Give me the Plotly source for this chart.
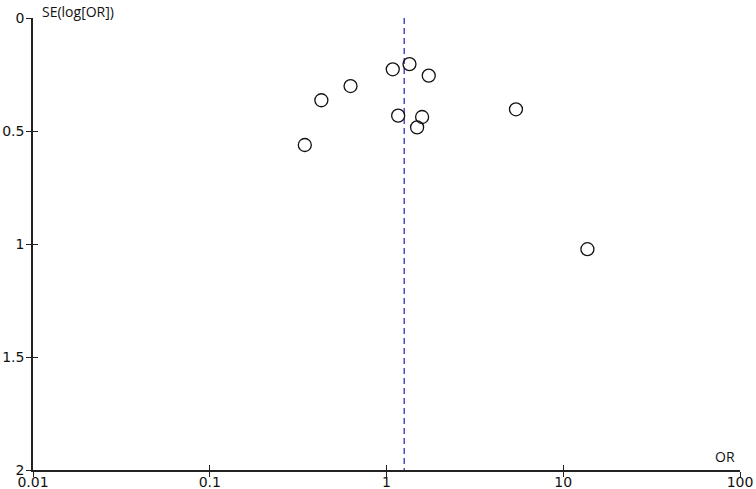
import plotly.graph_objects as go

# Data
odds_ratio = [1.085, 1.349, 1.734, 0.626, 0.428, 1.164, 1.59, 1.49, 0.345, 5.40, 13.7]
se_log_or = [0.227, 0.204, 0.255, 0.301, 0.364, 0.432, 0.438, 0.484, 0.562, 0.404, 1.023]
pooled_or = 1.26
se_span = [0, 2]

x_tickvals = [0.01, 0.1, 1, 10, 100]
x_ticktext = ["0.01", "0.1", "1", "10", "100"]
y_tickvals = [0, 0.5, 1, 1.5, 2]
y_ticktext = ["0", "0.5", "1", "1.5", "2"]

FONT = "DejaVu Sans"
AXC = "#222222"

fig = go.Figure()

fig.add_trace(go.Scatter(
    x=[pooled_or, pooled_or], y=se_span, mode="lines",
    line=dict(color="#4b4bc8", width=1.5, dash="6px,4px"),
    hoverinfo="skip", showlegend=False,
))

fig.add_trace(go.Scatter(
    x=odds_ratio, y=se_log_or, mode="markers",
    marker=dict(symbol="circle-open", size=13, color="#111111", line=dict(width=1.3)),
    showlegend=False,
))

# invisible trace to activate overlay axes (for ticks crossing the axis line)
fig.add_trace(go.Scatter(
    x=odds_ratio, y=se_log_or, mode="markers", xaxis="x2", yaxis="y2",
    marker=dict(opacity=0), hoverinfo="skip", showlegend=False,
))

common_x = dict(type="log", range=[-2, 2], tickvals=x_tickvals, showgrid=False,
                zeroline=False, showline=True, linecolor=AXC, linewidth=1.5,
                tickcolor=AXC, tickwidth=1.3, ticklen=5, automargin=False)
common_y = dict(range=[2, 0], tickvals=y_tickvals, showgrid=False, zeroline=False,
                showline=True, linecolor=AXC, linewidth=1.5,
                tickcolor=AXC, tickwidth=1.3, ticklen=5, automargin=False)

fig.update_layout(
    width=756, height=489,
    margin=dict(l=33, r=16, t=18, b=19),
    paper_bgcolor="white", plot_bgcolor="white",
    font=dict(family=FONT, size=14, color="#111111"),
    xaxis=dict(**common_x, ticks="outside", ticktext=x_ticktext, ticklabelstandoff=-7),
    yaxis=dict(**common_y, ticks="outside", ticktext=y_ticktext, ticklabelstandoff=-1),
    xaxis2=dict(**common_x, ticks="inside", overlaying="x", anchor="y2", showticklabels=False),
    yaxis2=dict(**common_y, ticks="inside", overlaying="y", anchor="x2", showticklabels=False),
    annotations=[
        dict(text="SE(log[OR])", xref="paper", yref="paper", x=0, y=1, xshift=7, yshift=7,
             xanchor="left", yanchor="middle", showarrow=False,
             font=dict(family="Open Sans", size=14, color="#111111")),
        dict(text="OR", xref="paper", yref="paper", x=1, y=0, xshift=-15, yshift=14,
             xanchor="center", yanchor="middle", showarrow=False,
             font=dict(family="Open Sans", size=14, color="#111111")),
    ],
)

# remove the page's default body margin so the figure fills the window exactly
fig.write_html("out.html", config={"displayModeBar": False},
               post_script="document.body.style.margin='0';")
